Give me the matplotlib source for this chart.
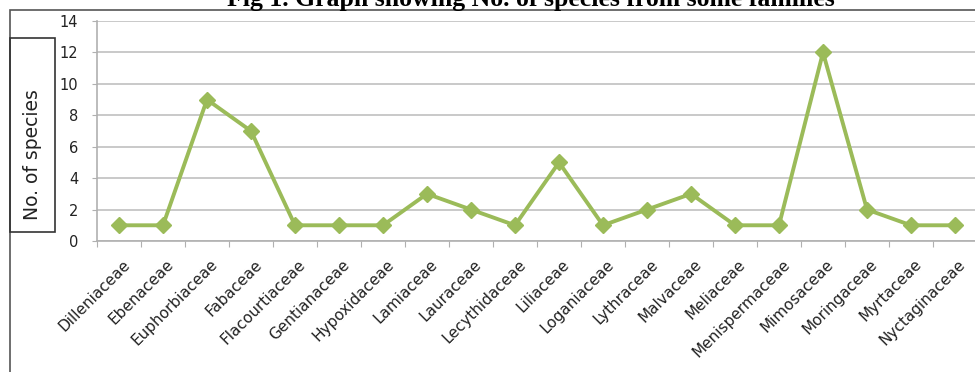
import matplotlib.pyplot as plt
from matplotlib.patches import Rectangle

families = ['Dilleniaceae', 'Ebenaceae', 'Euphorbiaceae', 'Fabaceae', 'Flacourtiaceae',
            'Gentianaceae', 'Hypoxidaceae', 'Lamiaceae', 'Lauraceae', 'Lecythidaceae',
            'Liliaceae', 'Loganiaceae', 'Lythraceae', 'Malvaceae', 'Meliaceae',
            'Menispermaceae', 'Mimosaceae', 'Moringaceae', 'Myrtaceae', 'Nyctaginaceae']
species = [1, 1, 9, 7, 1, 1, 1, 3, 2, 1, 5, 1, 2, 3, 1, 1, 12, 2, 1, 1]
y_ticks = [0, 2, 4, 6, 8, 10, 12, 14]

W, H = 975, 372
fig = plt.figure(figsize=(W / 100, H / 100), dpi=100)

# chart area border (Excel style)
fig.patches.append(Rectangle((10 / W, -0.1), 1.2, (H - 9.5) / H + 0.1, transform=fig.transFigure,
                             fill=False, edgecolor='#555555', linewidth=1.2))

ax = fig.add_axes([97 / W, 1 - 241 / H, 880 / W, 220 / H])
x = list(range(len(families)))
ax.plot(x, species, color='#9BBB59', linewidth=2.8, marker='D', markersize=8,
        markerfacecolor='#9BBB59', markeredgecolor='#9BBB59', clip_on=False, zorder=3)

ax.set_xlim(-0.5, len(families) - 0.5)
ax.set_ylim(0, 14)
ax.set_yticks(y_ticks)
ax.set_yticklabels([str(v) for v in y_ticks], fontsize=10.5, color='#222222')
ax.yaxis.grid(True, color='#c0c0c0', linewidth=1.2)
ax.set_axisbelow(True)

ax.set_xticks([i - 0.5 for i in range(len(families) + 1)])
ax.set_xticklabels([])
ax.tick_params(axis='x', length=4, color='#b0b0b0', direction='out')
ax.tick_params(axis='y', length=3.6, color='#b0b0b0', pad=10)
for i, name in enumerate(families):
    ax.text(i + 0.07, -1.0, name, rotation=45, ha='right', va='top', rotation_mode='anchor',
            fontsize=11, color='#222222', family='DejaVu Sans')

for side in ['top', 'right']:
    ax.spines[side].set_visible(False)
for side in ['left', 'bottom']:
    ax.spines[side].set_color('#b0b0b0')
    ax.spines[side].set_linewidth(1.2)

# boxed y label
fig.patches.append(Rectangle((10 / W, 1 - 232 / H), 45 / W, 194 / H, transform=fig.transFigure,
                             fill=False, edgecolor='#333333', linewidth=1.2))
fig.text(32 / W, 1 - 155 / H, 'No. of species', rotation=90, ha='center', va='center',
         fontsize=13.5, color='#222222')

# title is partly cut off at the top, as in the source figure
fig.text(531 / W, 1 - 6 / H, 'Fig 1. Graph showing No. of species from some families',
         ha='center', va='baseline', fontsize=18.5, fontweight='bold', family='Liberation Serif')

fig.savefig('out.png', dpi=100)
